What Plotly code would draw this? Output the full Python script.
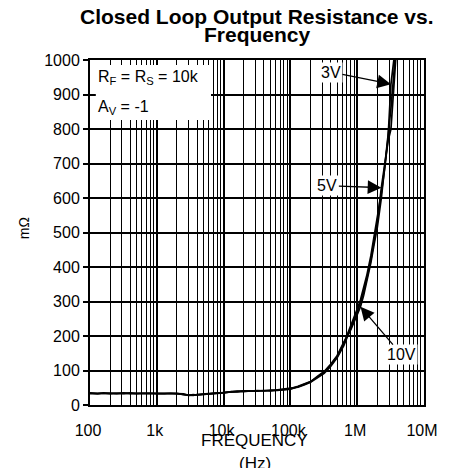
import math
import plotly.graph_objects as go

# ---------------- data ----------------
freq_hz = [100, 130, 160, 200, 250, 320, 400, 500, 630, 800,
           1000, 1300, 1600, 2000, 2500, 3000, 3500, 4000, 5000, 6300,
           8000, 10000, 13000, 16000, 20000, 25000, 32000, 40000, 50000, 63000,
           80000, 100000, 130000, 160000, 200000, 250000, 320000, 400000, 500000, 630000,
           800000, 1000000, 1120000, 1250000, 1400000, 1600000, 1800000, 2000000, 2300000, 2600000,
           2900000, 3200000, 3500000, 3800000]

r_3v = [34, 33, 35, 33, 34, 33, 35, 33, 34, 33,
        34, 33, 34, 33, 31, 28, 29, 30, 31, 33,
        34, 35, 39, 38, 40, 40, 41, 41, 42, 43,
        44, 47, 54, 60, 68, 80, 95, 115, 140, 178,
        228, 278, 305, 338, 378, 432, 488, 540, 615, 690,
        775, 930, 990, 1050]

r_5v = [33, 34, 33, 34, 33, 35, 33, 34, 33, 34,
        33, 34, 33, 34, 30, 29, 28, 30, 32, 32,
        35, 36, 38, 40, 39, 41, 40, 42, 41, 44,
        45, 48, 52, 58, 66, 78, 92, 112, 137, 172,
        222, 268, 298, 328, 368, 420, 478, 530, 630, 705,
        765, 800, 905, 1010]

r_10v = [35, 33, 34, 34, 33, 34, 34, 33, 35, 33,
         34, 34, 33, 33, 32, 28, 30, 29, 31, 33,
         33, 36, 38, 39, 41, 40, 42, 41, 43, 42,
         45, 46, 53, 59, 67, 82, 97, 118, 143, 182,
         218, 262, 285, 318, 360, 412, 468, 515, 600, 690,
         770, 860, 950, 1040]

x_tick_vals = [100, 1000, 10000, 100000, 1000000, 10000000]
x_tick_text = ["100", "1k", "10k", "100k", "1M", "10M"]
y_tick_vals = [0, 100, 200, 300, 400, 500, 600, 700, 800, 900, 1000]

FONT = "Liberation Sans, Arial, Helvetica, sans-serif"

# minor grid lines at 2..9 x each decade
minor_vals = [m * d for d in [100, 1000, 10000, 100000, 1000000] for m in range(2, 10)]

fig = go.Figure()
for r in (r_3v, r_5v, r_10v):
    fig.add_trace(go.Scatter(x=freq_hz, y=r, mode="lines",
                             line=dict(color="black", width=1.7),
                             showlegend=False, hoverinfo="skip"))

W, H = 450, 468
PL, PR, PT, PB = 87, 432, 60, 405          # plot box in the window
XS = 3                                      # compensation for observed page shift
L, T, R, B = PL + XS, PT, W - PR - XS, H - PB
PW, PH = PR - PL, PB - PT


def px(xpix):
    return (xpix - PL) / PW


def py(ypix):
    return (PB - ypix) / PH


fig.update_layout(
    width=W, height=H,
    margin=dict(l=L, r=R, t=T, b=B),
    paper_bgcolor="white", plot_bgcolor="white",
    font=dict(family=FONT, color="black", size=16),
    xaxis=dict(type="log", range=[2, 7], tickmode="array",
               tickvals=x_tick_vals, ticktext=x_tick_text,
               showgrid=True, gridcolor="black", gridwidth=1.5,
               minor=dict(tickvals=minor_vals, showgrid=True,
                          gridcolor="black", gridwidth=1.3, ticks=""),
               showline=True, linecolor="black", linewidth=2, mirror=True,
               ticks="", ticklabelstandoff=10, ticklabelshift=-2,
               zeroline=False, tickfont=dict(size=16)),
    yaxis=dict(range=[0, 1000], tickmode="array", tickvals=y_tick_vals,
               showgrid=True, gridcolor="black", gridwidth=1.5,
               showline=True, linecolor="black", linewidth=2, mirror=True,
               ticks="outside", ticklen=5, tickwidth=1.5, tickcolor="black",
               zeroline=False, tickfont=dict(size=16)),
)

# white legend box at top-left of plot
fig.add_shape(type="rect", xref="paper", yref="paper",
              x0=px(93), x1=px(212), y0=py(120), y1=py(65),
              fillcolor="white", line=dict(width=0), layer="above")

ann = []
ann.append(dict(text="<b>Closed Loop Output Resistance vs.</b>", x=px(259), y=py(17),
                font=dict(size=21)))
ann.append(dict(text="<b>Frequency</b>", x=px(260), y=py(35), font=dict(size=21)))
ann.append(dict(text="FREQUENCY", x=px(257), y=py(440), font=dict(size=17)))
ann.append(dict(text="(Hz)", x=px(257), y=py(463), font=dict(size=17)))
ann.append(dict(text="mΩ", x=px(19), y=py(228), textangle=-90, font=dict(size=14)))
ann.append(dict(text="R<sub>F</sub> = R<sub>S</sub> = 10k", x=px(93), y=py(77),
                xanchor="left", font=dict(size=16)))
ann.append(dict(text="A<sub>V</sub> = -1", x=px(93), y=py(107),
                xanchor="left", font=dict(size=16)))
for a in ann:
    a.setdefault("xanchor", "center")
    a.update(xref="paper", yref="paper", yanchor="middle", showarrow=False)
    fig.add_annotation(**a)

# curve labels with arrows (log axis: annotation x is log10 of frequency)
labels = [("3V", r_3v, 51, -60, -12),
          ("5V", r_5v, 48, -54, -2),
          ("10V", r_10v, 42, 41, 48)]
for txt, r, i, axo, ayo in labels:
    fig.add_annotation(x=math.log10(freq_hz[i]), y=r[i], xref="x", yref="y",
                       text=txt, showarrow=True, ax=axo, ay=ayo,
                       arrowhead=2, arrowsize=2.1, arrowwidth=1.3,
                       arrowcolor="black", bgcolor="white",
                       font=dict(size=16), borderpad=1)

fig.write_html("out.html",
               config={"displayModeBar": False},
               post_script="document.body.style.margin='0';"
                           "document.body.style.overflow='hidden';"
                           "document.documentElement.style.overflow='hidden';"
                           "window.scrollTo(0,0);")
